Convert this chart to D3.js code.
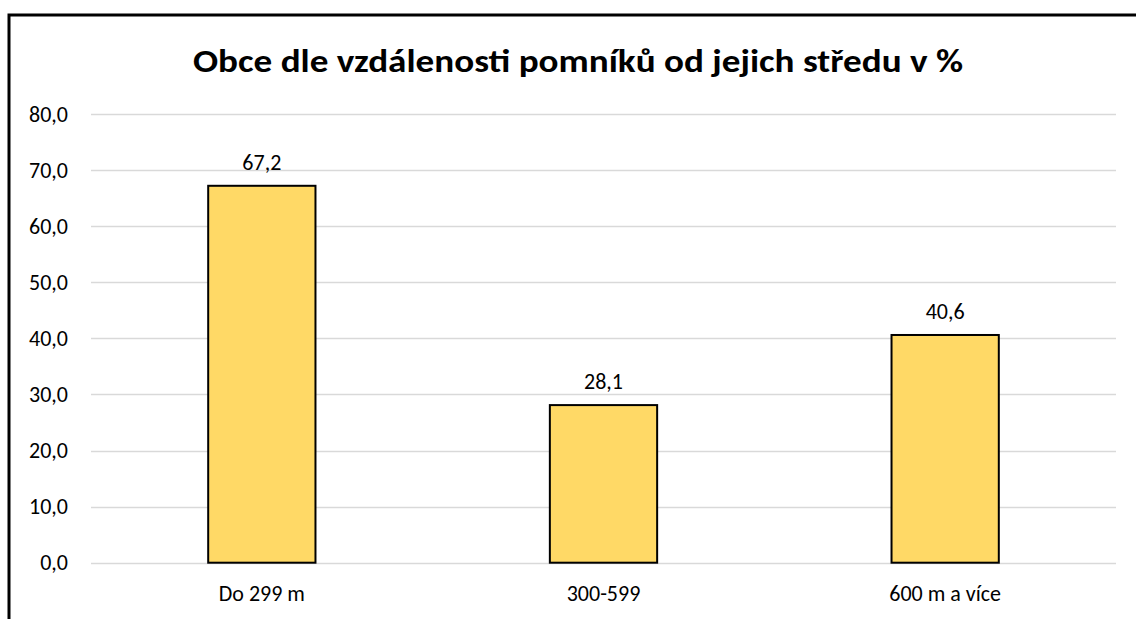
<!DOCTYPE html>
<html>
<head>
<meta charset="utf-8">
<script src="https://cdn.jsdelivr.net/npm/d3@7"></script>
<style>
  html, body { margin: 0; padding: 0; background: #fff; }
  svg { display: block; }
  svg text { font-family: Carlito, Lato, "Open Sans", sans-serif; }
</style>
</head>
<body>
<div id="chart"></div>
<script>
// data
var categories = ["Do 299 m", "300-599", "600 m a více"];
var values = [67.2, 28.1, 40.6];
var yTicks = [0, 10, 20, 30, 40, 50, 60, 70, 80];
var title = "Obce dle vzdálenosti pomníků od jejich středu v %";

var width = 1136, height = 619;
var margin = {top: 114, right: 20, bottom: 56.3, left: 91};
var fmt = function(d){ return d3.format(".1f")(d).replace(".", ","); };
var labelSize = 22;

var svg = d3.select("#chart").append("svg")
    .attr("width", width)
    .attr("height", height);

svg.append("rect").attr("width", width).attr("height", height).attr("fill", "#fff");

// chart border (only left and top visible in the crop)
svg.append("path")
    .attr("d", "M9,619 V15 H1136")
    .attr("fill", "none")
    .attr("stroke", "#000")
    .attr("stroke-width", 3);

var x = d3.scaleBand()
    .domain(categories)
    .range([margin.left, width - margin.right])
    .paddingInner(0.686)
    .paddingOuter(0.343);

var y = d3.scaleLinear()
    .domain([0, 80])
    .range([height - margin.bottom, margin.top]);

// gridlines
svg.append("g").selectAll("line")
    .data(yTicks)
    .join("line")
    .attr("x1", margin.left)
    .attr("x2", width - margin.right)
    .attr("y1", function(d){ return Math.round(y(d)) + 0.5; })
    .attr("y2", function(d){ return Math.round(y(d)) + 0.5; })
    .attr("stroke", "#d9d9d9")
    .attr("stroke-width", 1.5);

// y axis labels
var yAxis = d3.axisLeft(y)
    .tickValues(yTicks)
    .tickSize(0)
    .tickPadding(0)
    .tickFormat(fmt);

svg.append("g")
    .attr("transform", "translate(68,0)")
    .call(yAxis)
    .attr("font-family", null)
    .attr("font-size", labelSize)
    .call(function(g){ g.select(".domain").remove(); })
    .selectAll("text")
    .attr("fill", "#000");

// bars
svg.append("g").selectAll("rect")
    .data(values)
    .join("rect")
    .attr("x", function(d, i){ return x(categories[i]); })
    .attr("y", function(d){ return y(d); })
    .attr("width", x.bandwidth())
    .attr("height", function(d){ return y(0) - y(d); })
    .attr("fill", "#ffd966")
    .attr("stroke", "#000")
    .attr("stroke-width", 2);

// data labels
svg.append("g").selectAll("text")
    .data(values)
    .join("text")
    .attr("x", function(d, i){ return x(categories[i]) + x.bandwidth() / 2; })
    .attr("y", function(d){ return y(d) - 16; })
    .attr("text-anchor", "middle")
    .attr("font-size", labelSize)
    .attr("fill", "#000")
    .text(fmt);

// x axis labels
var xAxis = d3.axisBottom(x).tickSize(0).tickPadding(0);
svg.append("g")
    .attr("transform", "translate(0," + (y(0) + 38) + ")")
    .call(xAxis)
    .attr("font-family", null)
    .attr("font-size", labelSize)
    .call(function(g){ g.select(".domain").remove(); })
    .selectAll("text")
    .attr("dy", 0)
    .attr("fill", "#000");

// title
svg.append("text")
    .attr("x", 578)
    .attr("y", 72)
    .attr("text-anchor", "middle")
    .attr("font-size", 33)
    .attr("font-weight", "bold")
    .attr("textLength", 770)
    .attr("lengthAdjust", "spacingAndGlyphs")
    .attr("fill", "#000")
    .text(title);
</script>
</body>
</html>
